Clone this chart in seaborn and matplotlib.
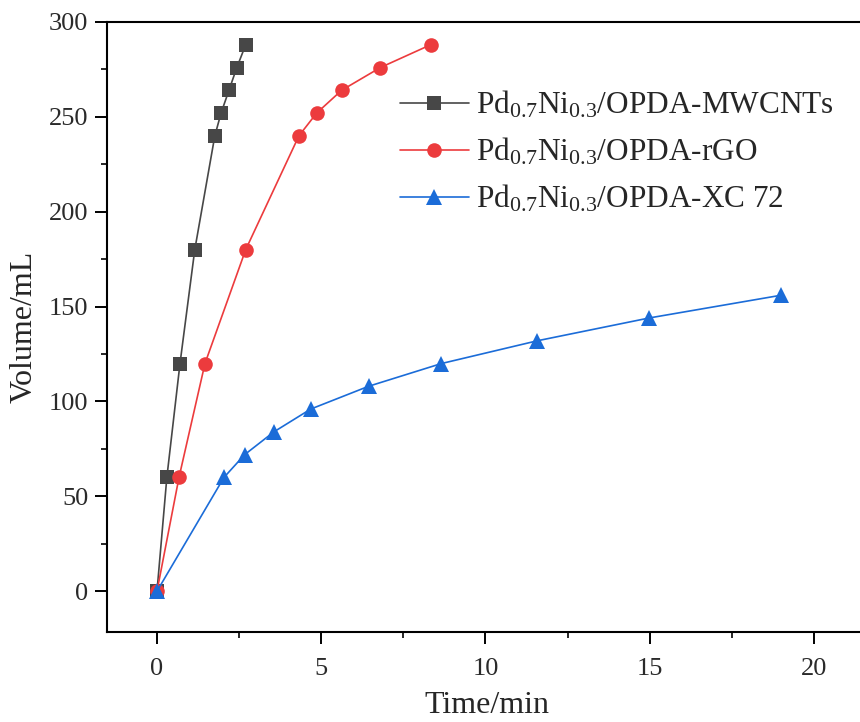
import matplotlib
matplotlib.use("Agg")
import matplotlib.pyplot as plt
import seaborn as sns
import pandas as pd
from matplotlib.ticker import MultipleLocator

# Data
t_mwcnt = [0, 0.3, 0.7, 1.15, 1.76, 1.95, 2.19, 2.43, 2.7]
v_mwcnt = [0, 60, 120, 180, 240, 252, 264, 276, 288]
t_rgo = [0, 0.67, 1.46, 2.7, 4.32, 4.86, 5.62, 6.8, 8.33]
v_rgo = [0, 60, 120, 180, 240, 252, 264, 276, 288]
t_xc = [0, 2.04, 2.67, 3.56, 4.68, 6.44, 8.66, 11.58, 14.98, 19.0]
v_xc = [0, 60, 72, 84, 96, 108, 120, 132, 144, 156]

labels = [r"Pd$_{\mathrm{0.7}}$Ni$_{\mathrm{0.3}}$/OPDA-MWCNTs",
          r"Pd$_{\mathrm{0.7}}$Ni$_{\mathrm{0.3}}$/OPDA-rGO",
          r"Pd$_{\mathrm{0.7}}$Ni$_{\mathrm{0.3}}$/OPDA-XC 72"]
colors = ["#474747", "#ec3b3d", "#1b6cd8"]
markers = ["s", "o", "^"]
msizes = [10, 10.5, 11]

sns.set_theme(style="ticks")
plt.rcParams["font.family"] = ["Liberation Serif", "DejaVu Serif"]
plt.rcParams["mathtext.fontset"] = "custom"
plt.rcParams["mathtext.rm"] = "Liberation Serif"
plt.rcParams["mathtext.it"] = "Liberation Serif:italic"

fig = plt.figure(figsize=(8.6, 7.22), dpi=100)
W, H = 860, 722
left, right, top, bottom = 107, 866, 22, 632
ax = fig.add_axes([left / W, (H - bottom) / H, (right - left) / W, (bottom - top) / H])

series = [(t_mwcnt, v_mwcnt), (t_rgo, v_rgo), (t_xc, v_xc)]
for (t, v), lab, c, m, ms in zip(series, labels, colors, markers, msizes):
    df = pd.DataFrame({"t": t, "v": v})
    sns.lineplot(data=df, x="t", y="v", ax=ax, color=c, marker=m, markersize=ms,
                 markeredgecolor=c, markeredgewidth=0, linewidth=1.2, label=lab,
                 sort=False)

x0px, x_per = 157, 32.85
ax.set_xlim((left - x0px) / x_per, (right - x0px) / x_per)
ax.set_ylim(-21.5, 300)

ax.xaxis.set_major_locator(MultipleLocator(5))
ax.xaxis.set_minor_locator(MultipleLocator(2.5))
ax.yaxis.set_major_locator(MultipleLocator(50))
ax.yaxis.set_minor_locator(MultipleLocator(25))

ax.tick_params(which="major", direction="out", length=8.5, width=1.4,
               labelsize=19, colors="black", labelcolor="#2a2a2a", pad=5)
ax.tick_params(which="minor", direction="out", length=4.3, width=1.4)
ax.tick_params(axis="x", which="major", pad=10)
for s in ax.spines.values():
    s.set_linewidth(1.5)
    s.set_color("black")
ax.spines["right"].set_visible(False)

ax.set_xlabel("Time/min", fontsize=23, labelpad=8)
ax.set_ylabel("Volume/mL", fontsize=23, labelpad=7)

leg = ax.legend(loc="upper left", bbox_to_anchor=((400 - left) / (right - left), (bottom - 89) / (bottom - top)),
                frameon=False, fontsize=22.5, handlelength=2.2, handletextpad=0.22,
                labelspacing=0.5, borderaxespad=0, borderpad=0)

fig.savefig("out.png", dpi=100)
